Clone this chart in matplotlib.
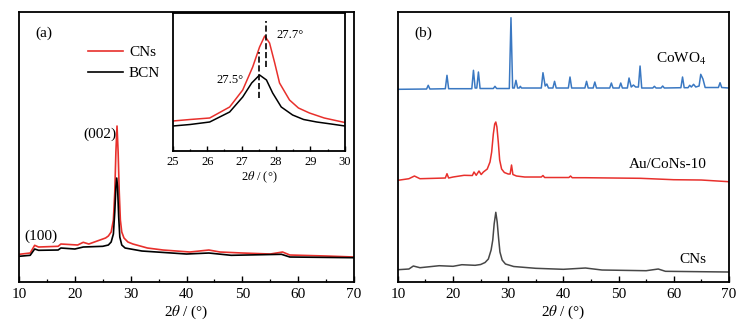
import matplotlib
matplotlib.use("Agg")
import matplotlib.pyplot as plt
from matplotlib.ticker import MultipleLocator

plt.rcParams["font.family"] = ["Liberation Serif", "DejaVu Serif"]
plt.rcParams["mathtext.fontset"] = "stix"

# ---- (a) main panel: CNs vs BCN ----
cns_x = [10, 12, 12.8, 13.5, 17, 17.5, 20.5, 21.5, 22.5, 24.5, 25.5, 26.0, 26.5, 26.9,
         27.15, 27.35, 27.55, 27.75, 27.95, 28.15, 28.4, 28.8, 29.5, 30.4, 33, 35.8,
         40.6, 44, 46, 50, 55, 57.2, 58.5, 65, 70]
cns_y = [27.7, 29, 36.7, 35, 35.7, 38, 37, 39.7, 38, 42, 44, 46, 50, 62,
         90, 130, 156, 130, 90, 62, 50, 44, 40, 38, 34, 32,
         30, 32, 30, 29, 28, 30, 27, 26, 25]
bcn_x = [10, 12, 12.8, 13.5, 17, 17.5, 20, 21.5, 25, 26, 26.5, 26.9, 27.15, 27.35,
         27.5, 27.65, 27.85, 28.05, 28.4, 29, 32, 40, 44, 48, 57, 58.5, 70]
bcn_y = [25.7, 26.7, 33, 31.7, 32, 34, 33, 35, 35.7, 37, 40, 48, 70, 95,
         104, 95, 65, 45, 37, 34, 31, 28, 29, 26.7, 27.7, 25, 24.3]

# ---- (a) inset: zoom around (002) ----
ins_cns_x = [25, 25.5, 26.07, 26.65, 27.03, 27.32, 27.52, 27.67, 27.81, 27.96, 28.1,
             28.39, 28.65, 28.97, 29.4, 29.93, 30]
ins_cns_y = [30, 31.5, 33, 44, 61, 84, 104, 115, 108, 88, 68,
             51, 43, 38, 33, 29, 28.5]
ins_bcn_x = [25, 25.5, 26.07, 26.65, 27.03, 27.29, 27.52, 27.72, 27.9, 28.15, 28.48,
             28.8, 29.18, 29.6, 30]
ins_bcn_y = [25, 26.5, 29, 39, 54, 68, 76, 71, 58, 44, 36,
             31.5, 29, 27, 25]
peak_pos = [27.5, 27.7]

# ---- (b) panel ----
cowo_x = [10, 15.2, 15.5, 15.8, 18.6, 18.9, 19.2, 23.4, 23.7, 24.0, 24.3, 24.6, 24.9,
          27.3, 27.6, 27.9, 30.2, 30.5, 30.8, 31.1, 31.4, 31.7, 32.0, 32.2, 32.4,
          36.0, 36.3, 36.7, 37.0, 37.3, 38.1, 38.4, 38.7, 40.9, 41.2, 41.5,
          43.9, 44.2, 44.5, 45.4, 45.7, 46.0, 48.4, 48.7, 49.0, 50.1, 50.4, 50.7,
          51.6, 51.9, 52.3, 52.7, 53.1, 53.6, 53.9, 54.2, 56.2, 56.5, 56.8,
          57.7, 58.0, 58.3, 61.3, 61.6, 61.9, 62.6, 62.9, 63.2, 63.6, 64.0,
          64.6, 64.9, 65.3, 65.7, 68.1, 68.4, 68.7, 70]
cowo_y = [192.7, 193, 196.7, 193, 193.3, 206.7, 193.3, 193.3, 211.7, 194, 194, 210, 193.5,
          193.5, 195.7, 193.5, 193.5, 264.3, 194, 194, 201.7, 194, 194, 195.7, 194,
          194, 209.3, 196, 198, 194, 194, 200.7, 194, 194, 205, 194,
          194, 200.7, 194, 194, 200, 194, 194, 199, 194, 194, 199, 194,
          194, 204, 195, 197, 195, 195, 216, 194, 194, 195.7, 194,
          194, 196, 194, 194.3, 205, 194.3, 194.3, 196.7, 195, 197.7, 195,
          196, 207.7, 203, 194.5, 194.5, 199.3, 194.5, 194]
au_x = [10, 12, 13, 14, 18.6, 18.9, 19.2, 20, 22, 23.5, 23.8, 24.2, 24.7, 25.1, 25.5,
        26.2, 26.7, 27.0, 27.3, 27.55, 27.75, 27.95, 28.2, 28.45, 28.8, 29.3, 30.0,
        30.35, 30.6, 30.85, 31.5, 33, 36.0, 36.3, 36.6, 41.0, 41.3, 41.6, 44, 54, 60,
        65, 70]
au_y = [101.7, 103.3, 106, 103.3, 104, 108.3, 104, 105, 106.7, 106.5, 110, 106.7, 111,
        107.5, 110, 113, 120, 130, 148, 158, 160, 155, 140, 122, 113, 109.5, 108,
        108, 117, 107.5, 106, 105, 105, 106.5, 104.5, 104.5, 106, 104.3, 104.3, 103.7,
        102.3, 102, 100.3]
cnsb_x = [10, 12, 12.8, 14, 17.5, 20, 21.6, 24, 25, 25.8, 26.4, 26.9, 27.2, 27.45,
          27.75, 28.0, 28.25, 28.5, 28.9, 29.5, 31, 35, 40, 44, 47, 55, 57.2, 58.5,
          65, 70]
cnsb_y = [12.3, 13, 16, 14.3, 16.3, 15.7, 17.3, 16.7, 17.5, 19.5, 23, 32, 42, 58,
          69.7, 60, 44, 30, 22, 18, 15.5, 13.7, 12.7, 14, 12, 11.3, 13, 10.7,
          10.3, 10]

RED = "#e8302c"
BLUE = "#3a78c2"
GRAY = "#474747"

fig = plt.figure(figsize=(7.55, 3.31), dpi=100)
ax1 = fig.add_axes([0.0252, 0.148, 0.4437, 0.8157])
ax2 = fig.add_axes([0.527, 0.148, 0.4384, 0.8157])
axin = fig.add_axes([0.229, 0.5438, 0.2278, 0.417])


def style_axis(ax, major, minor, size, big=True):
    ax.xaxis.set_major_locator(MultipleLocator(major))
    ax.xaxis.set_minor_locator(MultipleLocator(minor))
    ax.tick_params(axis="x", which="major", direction="in", length=4.5 if big else 3.5,
                   width=1.0, labelsize=size, pad=4.5 if big else 3.5)
    ax.tick_params(axis="x", which="minor", direction="in", length=2.2 if big else 1.8,
                   width=0.9)
    ax.set_yticks([])
    for s in ax.spines.values():
        s.set_linewidth(1.3)


ax1.plot(cns_x, cns_y, color=RED, lw=1.2, label="CNs")
ax1.plot(bcn_x, bcn_y, color="black", lw=1.2, label="BCN")
ax1.set_xlim(10, 70)
ax1.set_ylim(0, 270)
style_axis(ax1, 10, 5, 11)
ax1.set_xlabel(r"2$\it{\theta}$ / (°)", fontsize=11, labelpad=2)
ax1.text(13, 249, "(a)", fontsize=11, va="center")
ax1.text(13.9, 46, "(100)", fontsize=11, ha="center", va="center")
ax1.text(24.5, 148, "(002)", fontsize=11, ha="center", va="center")
ax1.legend(loc="upper left", bbox_to_anchor=(0.205, 0.875), frameon=False, fontsize=11,
           handlelength=2.3, handletextpad=0.4, labelspacing=0.45,
           borderpad=0, borderaxespad=0)

axin.plot(ins_cns_x, ins_cns_y, color=RED, lw=1.1)
axin.plot(ins_bcn_x, ins_bcn_y, color="black", lw=1.1)
axin.plot([peak_pos[0], peak_pos[0]], [53, 99], color="black", ls="--", lw=1.2)
axin.plot([peak_pos[1], peak_pos[1]], [84, 130], color="black", ls="--", lw=1.2)
axin.text(28.02, 116, "27.7°", fontsize=9, ha="left", va="center")
axin.text(27.05, 71, "27.5°", fontsize=9, ha="right", va="center")
axin.set_xlim(25, 30)
axin.set_ylim(0, 138)
style_axis(axin, 1, 0.5, 9, big=False)
axin.set_xlabel(r"2$\it{\theta}$ / (°)", fontsize=9, labelpad=1)

ax2.plot(cowo_x, cowo_y, color=BLUE, lw=1.1)
ax2.plot(au_x, au_y, color=RED, lw=1.1)
ax2.plot(cnsb_x, cnsb_y, color=GRAY, lw=1.1)
ax2.set_xlim(10, 70)
ax2.set_ylim(0, 270)
style_axis(ax2, 10, 5, 11)
ax2.set_xlabel(r"2$\it{\theta}$ / (°)", fontsize=11, labelpad=2)
ax2.text(12.9, 249, "(b)", fontsize=11, va="center")
ax2.text(66, 223, "CoWO$_4$", fontsize=11, ha="right", va="center")
ax2.text(66, 118, "Au/CoNs-10", fontsize=11, ha="right", va="center")
ax2.text(66, 23, "CNs", fontsize=11, ha="right", va="center")

fig.savefig("out.png", dpi=100)
